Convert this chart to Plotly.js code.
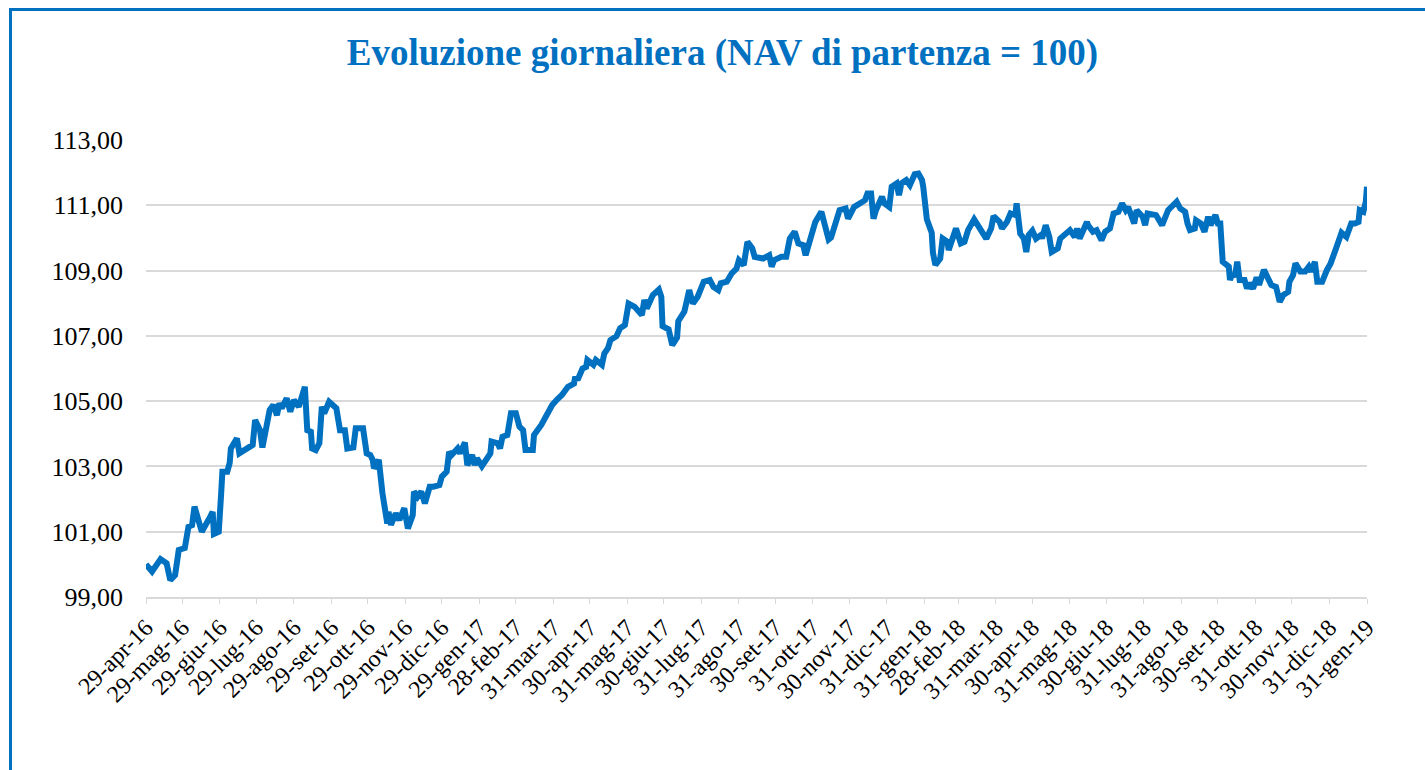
<!DOCTYPE html>
<html>
<head>
<meta charset="utf-8">
<script src="https://cdn.plot.ly/plotly-3.0.1.min.js"></script>
<style>
html,body{margin:0;padding:0;background:#fff;overflow:hidden;}
#wrap{position:relative;width:1425px;height:770px;}
#chart{position:absolute;left:0;top:0;width:1425px;height:770px;}
#frame{position:absolute;left:9px;top:8px;width:1500px;height:900px;border:3px solid #0070C0;box-sizing:border-box;pointer-events:none;}
</style>
</head>
<body>
<div id="wrap"><div id="chart"></div><div id="frame"></div></div>
<script>
const dates = [
"2016-04-29","2016-05-04","2016-05-11","2016-05-16","2016-05-19","2016-05-23","2016-05-26","2016-05-31",
"2016-06-03","2016-06-06","2016-06-08","2016-06-14","2016-06-21","2016-06-23","2016-06-24","2016-06-28","2016-06-30",
"2016-07-01","2016-07-05","2016-07-07","2016-07-08","2016-07-13","2016-07-15","2016-07-22","2016-07-26","2016-07-28",
"2016-08-01","2016-08-03","2016-08-05","2016-08-09","2016-08-12","2016-08-15","2016-08-17","2016-08-19","2016-08-23","2016-08-26","2016-08-29",
"2016-09-02","2016-09-07","2016-09-09","2016-09-12","2016-09-13","2016-09-16","2016-09-19","2016-09-21","2016-09-23","2016-09-27",
"2016-10-03","2016-10-06","2016-10-10","2016-10-12","2016-10-17","2016-10-19","2016-10-25","2016-10-28","2016-10-31",
"2016-11-02","2016-11-03","2016-11-07","2016-11-10","2016-11-14","2016-11-15","2016-11-17","2016-11-21","2016-11-24","2016-11-28",
"2016-12-01","2016-12-05","2016-12-06","2016-12-09","2016-12-12","2016-12-15","2016-12-19","2016-12-22","2016-12-27","2016-12-29",
"2017-01-02","2017-01-04","2017-01-06","2017-01-11","2017-01-13","2017-01-17","2017-01-19","2017-01-23","2017-01-25","2017-01-27","2017-01-31",
"2017-02-07","2017-02-08","2017-02-13","2017-02-15","2017-02-17","2017-02-21","2017-02-24","2017-02-28",
"2017-03-03","2017-03-06","2017-03-08","2017-03-14","2017-03-15","2017-03-21","2017-03-27","2017-03-30",
"2017-04-03","2017-04-07","2017-04-12","2017-04-17","2017-04-18","2017-04-20","2017-04-24","2017-04-27","2017-04-28",
"2017-05-03","2017-05-05","2017-05-10","2017-05-12","2017-05-15","2017-05-17","2017-05-22","2017-05-25","2017-05-29",
"2017-06-01","2017-06-06","2017-06-12","2017-06-14","2017-06-16","2017-06-21","2017-06-26","2017-06-28","2017-06-29",
"2017-07-04","2017-07-07","2017-07-11","2017-07-12","2017-07-17","2017-07-21","2017-07-24","2017-07-28",
"2017-08-02","2017-08-07","2017-08-10","2017-08-14","2017-08-16","2017-08-21","2017-08-25","2017-08-29","2017-08-31",
"2017-09-04","2017-09-07","2017-09-11","2017-09-13","2017-09-20","2017-09-25","2017-09-27","2017-09-29",
"2017-10-05","2017-10-09","2017-10-12","2017-10-16","2017-10-19","2017-10-23","2017-10-25","2017-10-30",
"2017-11-02","2017-11-07","2017-11-10","2017-11-13","2017-11-15","2017-11-17","2017-11-22","2017-11-27","2017-11-29",
"2017-12-04","2017-12-07","2017-12-11","2017-12-13","2017-12-15","2017-12-18","2017-12-20","2017-12-22","2017-12-27","2017-12-29",
"2018-01-02","2018-01-04","2018-01-08","2018-01-10","2018-01-12","2018-01-16","2018-01-19","2018-01-23","2018-01-26","2018-01-29","2018-01-30",
"2018-02-02","2018-02-06","2018-02-07","2018-02-09","2018-02-13","2018-02-15","2018-02-19","2018-02-20","2018-02-26","2018-02-28",
"2018-03-02","2018-03-05","2018-03-08","2018-03-13","2018-03-16","2018-03-23","2018-03-27","2018-03-29",
"2018-04-03","2018-04-05","2018-04-09","2018-04-12","2018-04-16","2018-04-17","2018-04-20","2018-04-23","2018-04-25","2018-04-27","2018-04-30",
"2018-05-03","2018-05-07","2018-05-08","2018-05-11","2018-05-14","2018-05-16","2018-05-21","2018-05-23","2018-05-28","2018-05-31",
"2018-06-04","2018-06-06","2018-06-08","2018-06-14","2018-06-15","2018-06-19","2018-06-22","2018-06-26","2018-06-29",
"2018-07-03","2018-07-06","2018-07-10","2018-07-13","2018-07-16","2018-07-18","2018-07-20","2018-07-23","2018-07-25","2018-07-30",
"2018-08-01","2018-08-03","2018-08-10","2018-08-15","2018-08-20","2018-08-27","2018-08-30",
"2018-09-03","2018-09-05","2018-09-07","2018-09-11","2018-09-12","2018-09-16","2018-09-19","2018-09-22","2018-09-24","2018-09-28","2018-09-30",
"2018-10-02","2018-10-04","2018-10-09","2018-10-10","2018-10-12","2018-10-14","2018-10-16","2018-10-18","2018-10-22","2018-10-24","2018-10-26","2018-10-29",
"2018-11-01","2018-11-03","2018-11-07","2018-11-10","2018-11-13","2018-11-17","2018-11-20","2018-11-23","2018-11-27","2018-11-28",
"2018-12-01","2018-12-03","2018-12-07","2018-12-11","2018-12-14","2018-12-16","2018-12-19","2018-12-21","2018-12-25","2018-12-29",
"2019-01-01","2019-01-05","2019-01-08","2019-01-10","2019-01-14","2019-01-16","2019-01-18","2019-01-21","2019-01-24","2019-01-25","2019-01-28","2019-01-30","2019-01-31"
];
const nav = [
100.00,99.78,100.16,100.03,99.52,99.67,100.44,100.50,
101.15,101.20,101.77,101.00,101.46,101.61,100.93,101.00,102.18,
102.84,102.84,103.10,103.55,103.86,103.40,103.60,103.66,104.42,
104.11,103.58,104.06,104.73,104.88,104.57,104.93,104.78,105.09,104.68,105.03,
104.83,105.44,104.11,104.06,103.55,103.50,103.71,104.83,104.63,104.98,
104.78,104.11,104.11,103.55,103.58,104.17,104.17,103.40,103.35,
103.20,102.94,103.20,102.18,101.25,101.61,101.21,101.56,101.36,101.72,
101.10,101.51,102.23,102.07,102.23,101.87,102.38,102.38,102.43,102.69,
102.84,103.45,103.35,103.55,103.40,103.73,103.04,103.35,103.04,103.25,103.01,
103.40,103.76,103.71,103.55,103.91,103.96,104.63,104.63,
104.22,104.11,103.50,103.50,103.96,104.27,104.68,104.88,
105.05,105.19,105.44,105.54,105.75,105.65,106.00,106.05,106.26,
106.11,106.26,106.11,106.46,106.62,106.87,106.99,107.23,107.33,
107.99,107.89,107.64,108.10,107.84,108.25,108.42,108.20,107.30,
107.20,106.72,106.95,107.45,107.74,108.40,107.99,108.20,
108.66,108.71,108.50,108.40,108.61,108.66,108.91,109.06,109.32,
109.17,109.88,109.68,109.42,109.37,109.47,109.12,109.32,
109.42,109.42,109.98,110.19,109.83,109.78,109.47,110.03,
110.49,110.80,110.34,109.95,110.01,110.29,110.85,110.90,110.59,
110.95,111.00,111.11,111.16,111.36,111.36,110.59,110.85,111.26,111.06,
110.95,111.57,111.67,111.31,111.67,111.77,111.62,111.95,111.97,111.77,111.57,
110.57,110.16,109.55,109.17,109.37,109.98,109.88,109.63,110.29,110.09,
109.83,109.88,110.24,110.57,110.39,109.98,110.29,110.67,
110.49,110.29,110.49,110.75,110.70,111.06,110.13,109.98,109.57,110.09,110.22,
109.98,110.09,109.98,110.39,110.03,109.57,109.68,109.98,110.13,110.24,
110.03,110.29,109.98,110.49,110.39,110.19,110.24,109.93,110.19,
110.29,110.75,110.80,111.06,110.85,110.95,110.70,110.44,110.85,110.65,
110.39,110.75,110.70,110.39,110.85,111.11,110.90,
110.80,110.44,110.24,110.29,110.54,110.44,110.19,110.65,110.39,110.70,110.44,
110.44,109.27,109.12,108.71,108.91,108.81,109.27,108.71,108.71,108.45,108.61,108.45,
108.79,108.56,109.02,108.76,108.56,108.50,108.04,108.25,108.35,108.66,
108.86,109.22,108.97,108.97,109.12,108.97,109.27,108.66,108.66,109.02,
109.22,109.63,109.93,110.16,110.03,110.29,110.44,110.44,110.49,110.85,110.80,111.11,111.57
];
const tickDates = [
"2016-04-29","2016-05-29","2016-06-29","2016-07-29","2016-08-29","2016-09-29","2016-10-29","2016-11-29","2016-12-29",
"2017-01-29","2017-02-28","2017-03-31","2017-04-30","2017-05-31","2017-06-30","2017-07-31","2017-08-31","2017-09-30",
"2017-10-31","2017-11-30","2017-12-31","2018-01-31","2018-02-28","2018-03-31","2018-04-30","2018-05-31","2018-06-30",
"2018-07-31","2018-08-31","2018-09-30","2018-10-31","2018-11-30","2018-12-31","2019-01-31"
];
const tickLabels = [
"29-apr-16","29-mag-16","29-giu-16","29-lug-16","29-ago-16","29-set-16","29-ott-16","29-nov-16","29-dic-16",
"29-gen-17","28-feb-17","31-mar-17","30-apr-17","31-mag-17","30-giu-17","31-lug-17","31-ago-17","30-set-17",
"31-ott-17","30-nov-17","31-dic-17","31-gen-18","28-feb-18","31-mar-18","30-apr-18","31-mag-18","30-giu-18",
"31-lug-18","31-ago-18","30-set-18","31-ott-18","30-nov-18","31-dic-18","31-gen-19"
];
const yTickVals = [99,101,103,105,107,109,111,113];
const yTickLabels = ["99,00","101,00","103,00","105,00","107,00","109,00","111,00","113,00"];

const serif = "Liberation Serif, Times New Roman, serif";
const trace = {
  x: dates, y: nav, type: "scatter", mode: "lines",
  line: {color: "#0070C0", width: 6, shape: "linear"},
  hoverinfo: "x+y"
};
const layout = {
  width: 1425, height: 770,
  paper_bgcolor: "#ffffff", plot_bgcolor: "#ffffff",
  margin: {l: 146, r: 58, t: 140, b: 173},
  showlegend: false,
  title: {
    text: "<b>Evoluzione giornaliera (NAV di partenza = 100)</b>",
    font: {family: serif, size: 37, color: "#0070C0"},
    x: 0.507, xref: "container", y: 0.932, yref: "container", xanchor: "center", yanchor: "middle"
  },
  xaxis: {
    type: "date",
    range: ["2016-04-29", "2019-01-31"],
    tickmode: "array", tickvals: tickDates, ticktext: tickLabels,
    tickangle: -45,
    tickfont: {family: serif, size: 24, color: "#000"},
    showgrid: false, zeroline: false,
    showline: true, linecolor: "#d9d9d9", linewidth: 2,
    ticks: "outside", ticklen: 5, tickcolor: "#d9d9d9", tickwidth: 1
  },
  yaxis: {
    range: [99, 113],
    tickmode: "array", tickvals: yTickVals, ticktext: yTickLabels,
    tickfont: {family: serif, size: 26, color: "#000"},
    showgrid: true, gridcolor: "#d9d9d9", gridwidth: 2,
    zeroline: false, showline: false, ticks: "", ticklabelstandoff: 22
  }
};
Plotly.newPlot("chart", [trace], layout, {displayModeBar: false, staticPlot: true});
</script>
</body>
</html>
